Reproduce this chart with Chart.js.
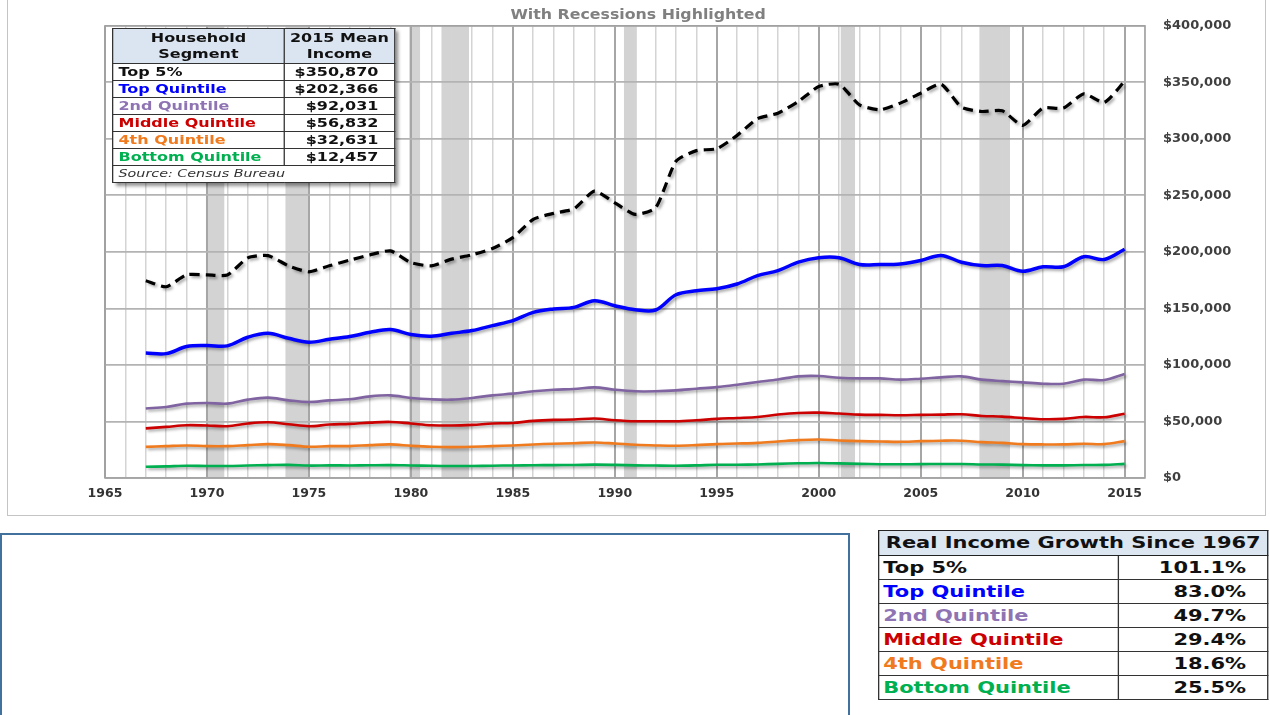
<!DOCTYPE html>
<html>
<head>
<meta charset="utf-8">
<script src="https://cdn.jsdelivr.net/npm/chart.js@4.4.1/dist/chart.umd.min.js"></script>
<style>
  html, body { margin:0; padding:0; background:#fff; width:1270px; height:715px; overflow:hidden; position:relative; font-family:"DejaVu Sans", sans-serif; }
  #frame { position:absolute; left:7px; top:-2px; width:1259px; height:518px; border:1.5px solid #c4c4c4; box-sizing:border-box; }
  #chartWrap { position:absolute; left:9px; top:0px; width:1257px; height:516px; }
  #title { position:absolute; left:0; top:4px; width:1276px; text-align:center; }
  #title span { display:inline-block; transform:scaleX(1.17); transform-origin:50% 50%; font-family:"DejaVu Sans", sans-serif; font-weight:bold; font-size:13.5px; color:#808080; }
  #legendBox { position:absolute; left:112px; top:28px; transform:scaleX(1.3); transform-origin:0 0; box-shadow:3px 3px 3px rgba(0,0,0,0.45); background:#fff; }
  #legendBox table { border-collapse:collapse; font-family:"DejaVu Sans", sans-serif; font-weight:bold; font-size:12.3px; border:1.5px solid #2a2a2a; }
  #legendBox td { border:1px solid #333; padding:0 4px; height:16px; line-height:16px; white-space:nowrap; }
  #legendBox th { background:#dbe5f1; border:1px solid #333; height:34px; line-height:16px; font-weight:bold; color:#111; text-align:center; padding:0; }
  #legendBox td.v { text-align:right; padding-right:12px; color:#111; font-weight:bold; }
  #legendBox td.src { font-weight:normal; font-style:italic; font-size:11px; color:#333; }
  #blankBox { position:absolute; left:0px; top:533px; width:850px; height:200px; border:2px solid #41719c; box-sizing:border-box; }
  #growthBox { position:absolute; left:878px; top:530px; transform:scaleX(1.31); transform-origin:0 0; }
  #growthBox table { border-collapse:collapse; font-family:"DejaVu Sans", sans-serif; font-weight:bold; font-size:16px; border:1.5px solid #222; width:298px; }
  #growthBox th { background:#dce6f1; height:24px; line-height:24px; border:1px solid #222; text-align:center; color:#111; padding:0; white-space:nowrap; }
  #growthBox td { border:1px solid #333; height:23px; line-height:23px; padding:0 3px; white-space:nowrap; }
  #growthBox td.v { text-align:right; padding-right:16px; color:#111; }
</style>
</head>
<body>
<div id="frame"></div>
<div id="chartWrap"><canvas id="c" width="1257" height="516"></canvas></div>
<div id="title"><span>With Recessions Highlighted</span></div>
<div id="legendBox"></div>
<div id="blankBox"></div>
<div id="growthBox"></div>
<script>
// ---------------- DATA ----------------
const years = [1967,1968,1969,1970,1971,1972,1973,1974,1975,1976,1977,1978,1979,1980,1981,1982,1983,1984,1985,1986,1987,1988,1989,1990,1991,1992,1993,1994,1995,1996,1997,1998,1999,2000,2001,2002,2003,2004,2005,2006,2007,2008,2009,2010,2011,2012,2013,2014,2015];

const top5 = [174500,169200,179700,179700,179500,194700,196700,187700,182400,187700,192700,197400,200900,190500,187700,193600,197400,203000,212600,228800,234100,238200,253700,243400,233200,239000,280200,289600,291300,303100,317800,322700,333000,346300,348300,330100,325700,331600,340400,348300,328000,324200,324800,311900,327200,327200,339800,332200,350870];

const topQuintile = [110600,110000,116300,117200,116900,124500,128000,123600,120100,122700,125100,128900,131300,126900,125400,128000,130400,134800,139200,146500,149500,150900,156800,152400,148900,148600,162100,165600,167400,171600,179000,183500,190900,194800,194800,188900,188900,189400,192400,196900,190900,187900,187900,182900,186800,186800,195700,193300,202366];

const secondQuintile = [61500,62800,65800,66400,65800,69300,71100,68700,67200,68700,69600,72200,73100,70800,69600,69300,70800,73100,74600,76700,78100,78700,80200,78100,76700,76700,77500,79000,80400,82500,84900,87200,89900,90200,88700,88100,88100,87000,87800,89000,89900,87000,85700,84600,83400,83400,87000,86700,92031];

const middleQuintile = [43900,45200,46700,46400,45800,48200,49300,47600,45800,47300,47900,49000,49600,48200,46700,46400,47000,48200,48700,50500,51400,51700,52600,51100,50200,50200,50200,51100,52300,53100,54000,56100,57500,57800,57000,56100,55800,55500,55800,56100,56400,54900,54300,53100,52000,52300,54000,53700,56832];

const fourthQuintile = [27500,28200,28800,28200,28200,29100,30000,29100,27600,28200,28200,29100,29700,28500,27600,27300,27600,28200,28800,29700,30300,30800,31400,30500,29400,28800,28500,29100,30000,30500,31100,32300,33500,34100,33200,32600,32300,32000,32600,33000,33000,31700,31100,30000,29700,29700,30300,30000,32631];

const bottomQuintile = [9926,10300,10800,10600,10600,11000,11400,11600,11000,11200,11100,11300,11400,11100,10800,10600,10600,10900,11100,11300,11400,11500,11800,11600,11200,11000,10900,11200,11700,11700,12000,12500,13000,13300,12900,12500,12200,12100,12300,12400,12400,12000,11800,11400,11200,11200,11500,11600,12457];

const recessionStart = [1969.95, 1973.85, 1979.92, 1981.5, 1990.45, 2001.08, 2007.88];
const recessionEnd   = [1970.85, 1975.02, 1980.45, 1982.85, 1991.08, 2001.78, 2009.38];

const seriesNames = ["Top 5%","Top Quintile","2nd Quintile","Middle Quintile","4th Quintile","Bottom Quintile"];
const seriesColors = ["#000000","#0000ff","#8064a2","#cc0000","#f07a1e","#00b050"];
const mean2015Labels = ["$350,870","$202,366","$92,031","$56,832","$32,631","$12,457"];
const growthLabels = ["101.1%","83.0%","49.7%","29.4%","18.6%","25.5%"];
const yTickValues = [0,50000,100000,150000,200000,250000,300000,350000,400000];
const xLabelYears = [1965,1970,1975,1980,1985,1990,1995,2000,2005,2010,2015];

// ---------------- TABLES ----------------
(function(){
  const tColors = ["#111111","#0000ff","#8f74b3","#cc0000","#f07a1e","#00b050"];
  let h = '<table><tr><th style="width:131px">Household<br>Segment</th><th style="width:84px">2015 Mean<br>Income</th></tr>';
  seriesNames.forEach((n,i)=>{ h += '<tr><td style="color:'+tColors[i]+'">'+n+'</td><td class="v">'+mean2015Labels[i]+'</td></tr>'; });
  h += '<tr><td class="src" colspan="2">Source: Census Bureau</td></tr></table>';
  document.getElementById('legendBox').innerHTML = h;
  let g = '<table><tr><th colspan="2">Real Income Growth Since 1967</th></tr>';
  seriesNames.forEach((n,i)=>{ g += '<tr><td style="color:'+tColors[i]+';width:176px">'+n+'</td><td class="v">'+growthLabels[i]+'</td></tr>'; });
  g += '</table>';
  document.getElementById('growthBox').innerHTML = g;
})();

// ---------------- CHART ----------------
const allSeries = [top5, topQuintile, secondQuintile, middleQuintile, fourthQuintile, bottomQuintile];
const widths = [3.2, 3.5, 2.6, 2.6, 2.6, 2.6];
const datasets = allSeries.map((vals,i)=>({
  label: seriesNames[i],
  data: years.map((y,j)=>({x:y, y:vals[j]})),
  borderColor: seriesColors[i],
  borderWidth: widths[i],
  borderDash: i===0 ? [10,6] : [],
  pointRadius: 0,
  tension: i===0 ? 0.2 : 0.35,
  fill: false
}));

const recessionPlugin = {
  id:'recessions',
  beforeDraw(chart){
    const {ctx, chartArea:a, scales:{x}} = chart;
    ctx.save();
    ctx.fillStyle = '#d3d3d3';
    recessionStart.forEach((s,i)=>{
      const x0 = x.getPixelForValue(s), x1 = x.getPixelForValue(recessionEnd[i]);
      ctx.fillRect(x0, a.top, x1-x0, a.bottom-a.top);
    });
    ctx.restore();
  },
  beforeDatasetsDraw(chart){
    const {ctx, chartArea:a} = chart;
    ctx.save();
    ctx.strokeStyle = '#a0a0a0';
    ctx.lineWidth = 1.5;
    ctx.strokeRect(a.left, a.top, a.right-a.left, a.bottom-a.top);
    ctx.restore();
  },
  beforeDatasetDraw(chart){
    const ctx = chart.ctx;
    ctx.save();
    ctx.shadowColor = 'rgba(0,0,0,0.35)';
    ctx.shadowOffsetX = 2;
    ctx.shadowOffsetY = 2;
    ctx.shadowBlur = 3;
  },
  afterDatasetDraw(chart){ chart.ctx.restore(); }
};

new Chart(document.getElementById('c'), {
  type:'line',
  data:{ datasets },
  plugins:[recessionPlugin],
  options:{
    responsive:false,
    animation:false,
    devicePixelRatio:1,
    layout:{ padding:{ left:96, right:0, top:24, bottom:8 } },
    plugins:{
      legend:{ display:false },
      tooltip:{ enabled:false },
      title:{ display:false }
    },
    scales:{
      x:{
        type:'linear', min:1965, max:2016,
        afterBuildTicks(scale){ const t=[]; for(let v=1965; v<=2016; v++) t.push({value:v}); scale.ticks=t; },
        afterFit(scale){ scale.height = 30; },
        ticks:{ autoSkip:false, maxRotation:0, padding:8, color:'#333333',
          font:{ family:'DejaVu Sans', weight:'bold', size:12.5 },
          callback:(v)=> xLabelYears.includes(v) ? String(v) : '' },
        grid:{ drawTicks:false,
          color:(c)=> (c.tick && c.tick.value%5===0) ? '#a6a6a6' : '#d4d4d4',
          lineWidth:(c)=> (c.tick && c.tick.value%5===0) ? 2 : 1.5 },
        border:{ display:false }
      },
      y:{
        position:'right', min:0, max:400000,
        afterBuildTicks(scale){ scale.ticks = yTickValues.map(v=>({value:v})); },
        afterFit(scale){ scale.width = 121; },
        ticks:{ padding:18, color:'#404040', crossAlign:'near',
          font:{ family:'DejaVu Sans', weight:'bold', size:13 },
          callback:(v)=> '$' + v.toLocaleString('en-US') },
        grid:{ drawTicks:false, color:'#b3b3b3', lineWidth:1.8 },
        border:{ display:false }
      }
    }
  }
});
</script>
</body>
</html>
